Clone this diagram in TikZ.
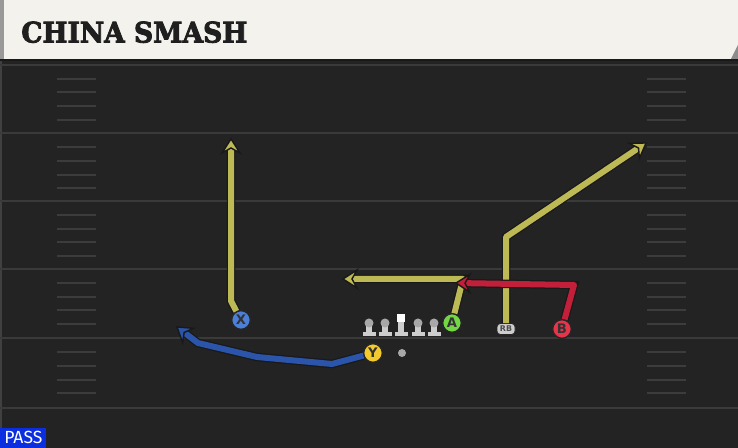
\documentclass[tikz,border=0pt]{standalone}
\usepackage{fontspec}
\newfontfamily\titlefont[BoldFeatures={FakeBold=3}]{DejaVu Serif}
\newfontfamily\tokenfont{DejaVu Sans}
\newfontfamily\tagfont{Fira Sans}

\definecolor{fieldgrey}{HTML}{232323}
\definecolor{yardgrey}{HTML}{3A3A3A}
\definecolor{hashgrey}{HTML}{3C3C3C}
\definecolor{bannerwhite}{HTML}{F4F2EC}
\definecolor{routeyellow}{HTML}{BDB955}
\definecolor{routered}{HTML}{C21F3A}
\definecolor{routeblue}{HTML}{2B55AA}
\definecolor{xblue}{HTML}{4C7FD8}
\definecolor{ygold}{HTML}{F2CA2E}
\definecolor{agreen}{HTML}{72D645}
\definecolor{bred}{HTML}{E8344A}
\definecolor{passblue}{HTML}{0A2EE0}
\definecolor{olgrey}{HTML}{CDCDCD}
\definecolor{olhead}{HTML}{A8A8A8}

\tikzset{
  player/.style={circle, draw=black!85, line width=0.7pt, minimum size=0.37cm, inner sep=0pt,
    font=\tokenfont\bfseries\fontsize{7.5}{7.5}\selectfont, text=black!80},
  route/.style={draw=#1, line width=0.12cm, line join=round, shorten >=0.18cm,
    preaction={draw=black!90, line width=0.17cm}},
  tiphead/.pic={
    \filldraw[fill=#1, draw=black!90, line width=0.8pt, line join=miter]
      (0,0) -- (-14,9) -- (-9,0) -- (-14,-9) -- cycle;
  },
  lineman/.pic={
    \fill[olgrey] (-6.5,9) rectangle (6.5,13);
    \fill[olgrey] (-3,0) rectangle (3,10);
    \fill[olhead] (0,0) circle (4.5);
  },
  centerman/.pic={
    \fill[olgrey] (-6.5,9) rectangle (6.5,13);
    \fill[olgrey] (-3,-1) rectangle (3,10);
    \fill[white] (-4,-9) rectangle (4,-1);
  },
}

\begin{document}
\begin{tikzpicture}[x=0.02cm,y=-0.02cm]
         \useasboundingbox (0,0) rectangle (738,448);
         \fill[fieldgrey] (0,59) rectangle (738,448);
         \fill[black!90] (0,59) rectangle (738,61);
         \fill[black!75] (0,61) rectangle (2,448);
         \foreach \yl in {65,133,201,269,338,408}
            \draw[yardgrey, line width=0.04cm] (0,\yl) -- (738,\yl);
         \foreach \hm in {79,92,106,120,147,161,175,188,215,229,242,256,283,297,310,324,352,366,380,393}{
            \draw[hashgrey, line width=0.04cm] (57,\hm) -- (96,\hm);
            \draw[hashgrey, line width=0.04cm] (647,\hm) -- (686,\hm);
         }

         \fill[bannerwhite] (0,0) rectangle (738,59);
         \fill[black!40] (0,0) rectangle (4,59);
         \fill[black!45] (731,59) -- (738,59) -- (738,45) -- cycle;
         \node[anchor=base west, inner sep=0pt, text=black!88] (title) at (21,42.5)
            {\resizebox{4.52cm}{0.42cm}{\titlefont\bfseries CHINA SMASH}};

         \pic (lt) at (369,323) {lineman};
         \pic (lg) at (385,323) {lineman};
         \pic (c) at (401,323) {centerman};
         \pic (rg) at (418,323) {lineman};
         \pic (rt) at (434,323) {lineman};
         \fill[olhead] (402,353) circle (4);

         \node[player, fill=xblue] (X) at (241,320) {X};
         \node[player, fill=ygold] (Y) at (373,353) {Y};
         \node[player, fill=agreen] (A) at (452,323) {A};
         \node[player, fill=bred] (B) at (562,329) {B};
         \node[draw=black!85, fill=olgrey, rounded corners=2pt, minimum width=0.36cm, minimum height=0.22cm,
            inner sep=0pt, font=\tokenfont\bfseries\fontsize{4.5}{4.5}\selectfont, text=black!70] (RB) at (506,329) {RB};

         \coordinate (xbreak) at (231,301);
         \coordinate (xend) at (231,139);
         \coordinate (ya) at (332,364);
         \coordinate (yb) at (257,357);
         \coordinate (yc) at (198,343);
         \coordinate (yend) at (177,327);
         \coordinate (abreak) at (463,279);
         \coordinate (aend) at (343,279);
         \coordinate (rbbreak) at (506,237);
         \coordinate (rbend) at (646,143);
         \coordinate (bbreak) at (574,285);
         \coordinate (bend) at (456,283);

         \draw[route=routeyellow] (RB) -- (rbbreak) -- (rbend);
         \pic[rotate=33.9] at (rbend) {tiphead=routeyellow};
         \draw[route=routeyellow] (A) -- (abreak) -- (aend);
         \pic[rotate=180] at (aend) {tiphead=routeyellow};
         \draw[route=routered] (B) -- (bbreak) -- (bend);
         \pic[rotate=179] at (bend) {tiphead=routered};
         \draw[route=routeyellow] (X) -- (xbreak) -- (xend);
         \pic[rotate=90] at (xend) {tiphead=routeyellow};
         \draw[route=routeblue] (Y) -- (ya) -- (yb) -- (yc) -- (yend);
         \pic[rotate=142.7] at (yend) {tiphead=routeblue};

         \node[player, fill=xblue] at (X) {X};
         \node[player, fill=ygold] at (Y) {Y};
         \node[player, fill=agreen] at (A) {A};
         \node[player, fill=bred] at (B) {B};

         \node[fill=passblue, text=white, anchor=south west, inner sep=0pt, minimum width=0.92cm,
            minimum height=0.4cm, font=\tagfont\fontsize{10}{10}\selectfont] (pass) at (0,448) {PASS};
\end{tikzpicture}
\end{document}
